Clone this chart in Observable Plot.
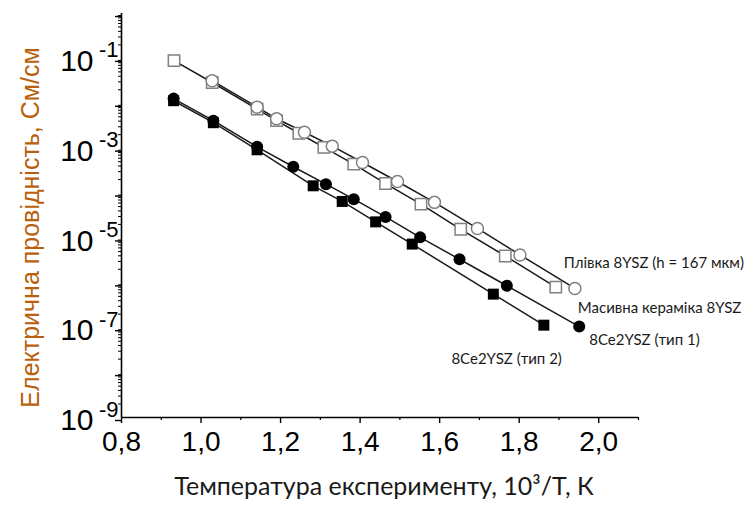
<!DOCTYPE html>
<html>
<head>
<meta charset="utf-8">
<script src="https://cdn.jsdelivr.net/npm/d3@7"></script>
<script src="https://cdn.jsdelivr.net/npm/@observablehq/plot@0.6"></script>
<style>
  html, body { margin: 0; padding: 0; background: #fff; }
  #chart { width: 748px; height: 508px; }
</style>
</head>
<body>
<div id="chart"></div>
<script>
// ---- data (x = 10^3/T, y = conductivity, См/см) ----
const seriesNames = [
  "Плівка 8YSZ (h = 167 мкм)",
  "Масивна кераміка 8YSZ",
  "8Ce2YSZ (тип 1)",
  "8Ce2YSZ (тип 2)"
];

const plivkaX = [0.932, 1.028, 1.141, 1.190, 1.246, 1.309, 1.384, 1.464, 1.553, 1.653, 1.765, 1.892];
const plivkaY = [8.9e-2, 2.9e-2, 7.4e-3, 4.1e-3, 2.15e-3, 1.04e-3, 4.4e-4, 1.63e-4, 5.65e-5, 1.56e-5, 3.96e-6, 8.05e-7];

const masyvnaX = [1.028, 1.141, 1.190, 1.260, 1.330, 1.406, 1.494, 1.587, 1.695, 1.802, 1.940];
const masyvnaY = [3.19e-2, 8.2e-3, 4.53e-3, 2.26e-3, 1.11e-3, 4.8e-4, 1.81e-4, 6.2e-5, 1.63e-5, 4.18e-6, 7.5e-7];

const tip1X = [0.931, 1.031, 1.141, 1.232, 1.314, 1.384, 1.464, 1.551, 1.650, 1.769, 1.951];
const tip1Y = [1.27e-2, 4.1e-3, 1.07e-3, 3.85e-4, 1.58e-4, 7.3e-5, 2.94e-5, 1.03e-5, 3.35e-6, 8.6e-7, 1.06e-7];

const tip2X = [0.931, 1.031, 1.141, 1.282, 1.355, 1.439, 1.531, 1.735, 1.862];
const tip2Y = [1.14e-2, 3.69e-3, 9.2e-4, 1.45e-4, 6.5e-5, 2.28e-5, 7.3e-6, 5.6e-7, 1.14e-7];

// ---- tick labels ----
const xTickValues = [0.8, 1.0, 1.2, 1.4, 1.6, 1.8, 2.0];
const xMinorValues = [0.9, 1.1, 1.3, 1.5, 1.7, 1.9, 2.1];
const yExponents = [0, -1, -2, -3, -4, -5, -6, -7, -8, -9];
const yLabeledExponents = [-1, -3, -5, -7, -9];

// ---- build tables ----
function rows(xs, ys, name) { return xs.map((x, i) => ({x, y: ys[i], series: name})); }
const plivka = rows(plivkaX, plivkaY, seriesNames[0]);
const masyvna = rows(masyvnaX, masyvnaY, seriesNames[1]);
const tip1 = rows(tip1X, tip1Y, seriesNames[2]);
const tip2 = rows(tip2X, tip2Y, seriesNames[3]);
const all = [...plivka, ...masyvna, ...tip1, ...tip2];

const yMajor = yExponents.map(e => Math.pow(10, e));
const yMinor = [];
for (const e of yExponents.slice(1)) for (let m = 2; m <= 9; m++) yMinor.push(m * Math.pow(10, e));
const yLabeled = yLabeledExponents.map(e => ({v: Math.pow(10, e), e}));

const fmtX = d => d.toFixed(1).replace(".", ",");
const labelFont = "Lato, 'Open Sans', sans-serif";
const arial = "'Liberation Sans', Arial, sans-serif";

const chart = Plot.plot({
  width: 748,
  height: 508,
  marginLeft: 121,
  marginRight: 110,
  marginTop: 13,
  marginBottom: 91,
  x: {domain: [0.8, 2.1]},
  y: {type: "log", domain: [1e-9, 1]},
  style: {fontFamily: arial, background: "#fff", color: "#000", overflow: "visible"},
  marks: [
    // axes
    Plot.axisX(xTickValues, {tickSize: 6, tickPadding: 8, tickFormat: fmtX, fontSize: 28, label: null, strokeWidth: 1.4}),
    Plot.axisX(xMinorValues, {tickSize: 3, tickFormat: () => "", label: null, strokeWidth: 1.2}),
    Plot.axisY(yMajor, {tickSize: 6, tickPadding: 22, dy: 3, fontSize: 30, label: null, strokeWidth: 1.4,
      tickFormat: d => (Math.round(Math.log10(d)) % 2 !== 0 ? "10" : "")}),
    Plot.axisY(yMinor, {tickSize: 3, tickFormat: () => "", label: null, strokeWidth: 1}),
    Plot.text(yLabeled, {frameAnchor: "left", y: "v", text: d => String(d.e), textAnchor: "end",
      dx: -3, dy: -8, fontSize: 22, fill: "#000"}),
    Plot.ruleX([0.8], {y1: 1e-9, y2: 1, stroke: "#000", strokeWidth: 1.6}),
    Plot.ruleY([1e-9], {x1: 0.8, x2: 2.1, stroke: "#000", strokeWidth: 1.6}),

    // lines
    Plot.line(all, {x: "x", y: "y", z: "series", stroke: "#1a1a1a", strokeWidth: 1.5}),

    // markers
    Plot.dot(tip2, {x: "x", y: "y", symbol: "square", r: 6.2, fill: "#000", stroke: "none"}),
    Plot.dot(tip1, {x: "x", y: "y", symbol: "circle", r: 6, fill: "#000", stroke: "none"}),
    Plot.dot(plivka, {x: "x", y: "y", symbol: "square", r: 6.4, fill: "#fff", stroke: "#808080", strokeWidth: 1.5}),
    Plot.dot(masyvna, {x: "x", y: "y", symbol: "circle", r: 6, fill: "#fff", stroke: "#808080", strokeWidth: 1.5}),

    // series labels anchored to last points
    Plot.text([plivka[plivka.length - 1]], {x: "x", y: "y", text: "series", textAnchor: "start", dx: 8, dy: -24,
      fontSize: 15, fontFamily: labelFont, fill: "#1a1a1a"}),
    Plot.text([masyvna[masyvna.length - 1]], {x: "x", y: "y", text: "series", textAnchor: "start", dx: 3, dy: 20,
      fontSize: 15, fontFamily: labelFont, fill: "#1a1a1a"}),
    Plot.text([tip1[tip1.length - 1]], {x: "x", y: "y", text: "series", textAnchor: "start", dx: 10, dy: 14,
      fontSize: 15, fontFamily: labelFont, fill: "#1a1a1a"}),
    Plot.text([tip2[tip2.length - 1]], {x: "x", y: "y", text: "series", textAnchor: "end", dx: 18, dy: 34,
      fontSize: 15, fontFamily: labelFont, fill: "#1a1a1a"}),

    // axis titles
    Plot.text(["Температура експерименту, 10³/T, К"], {frameAnchor: "bottom", textAnchor: "middle", dx: 4, dy: 77,
      fontSize: 25, fontFamily: labelFont, fill: "#1a1a1a"}),
    Plot.text(["Електрична провідність, См/см"], {frameAnchor: "left", textAnchor: "middle", dx: -91, dy: 12,
      rotate: -90, fontSize: 25, fontFamily: arial, fill: "#b8600c"})
  ]
});
document.getElementById("chart").appendChild(chart);
</script>
</body>
</html>
